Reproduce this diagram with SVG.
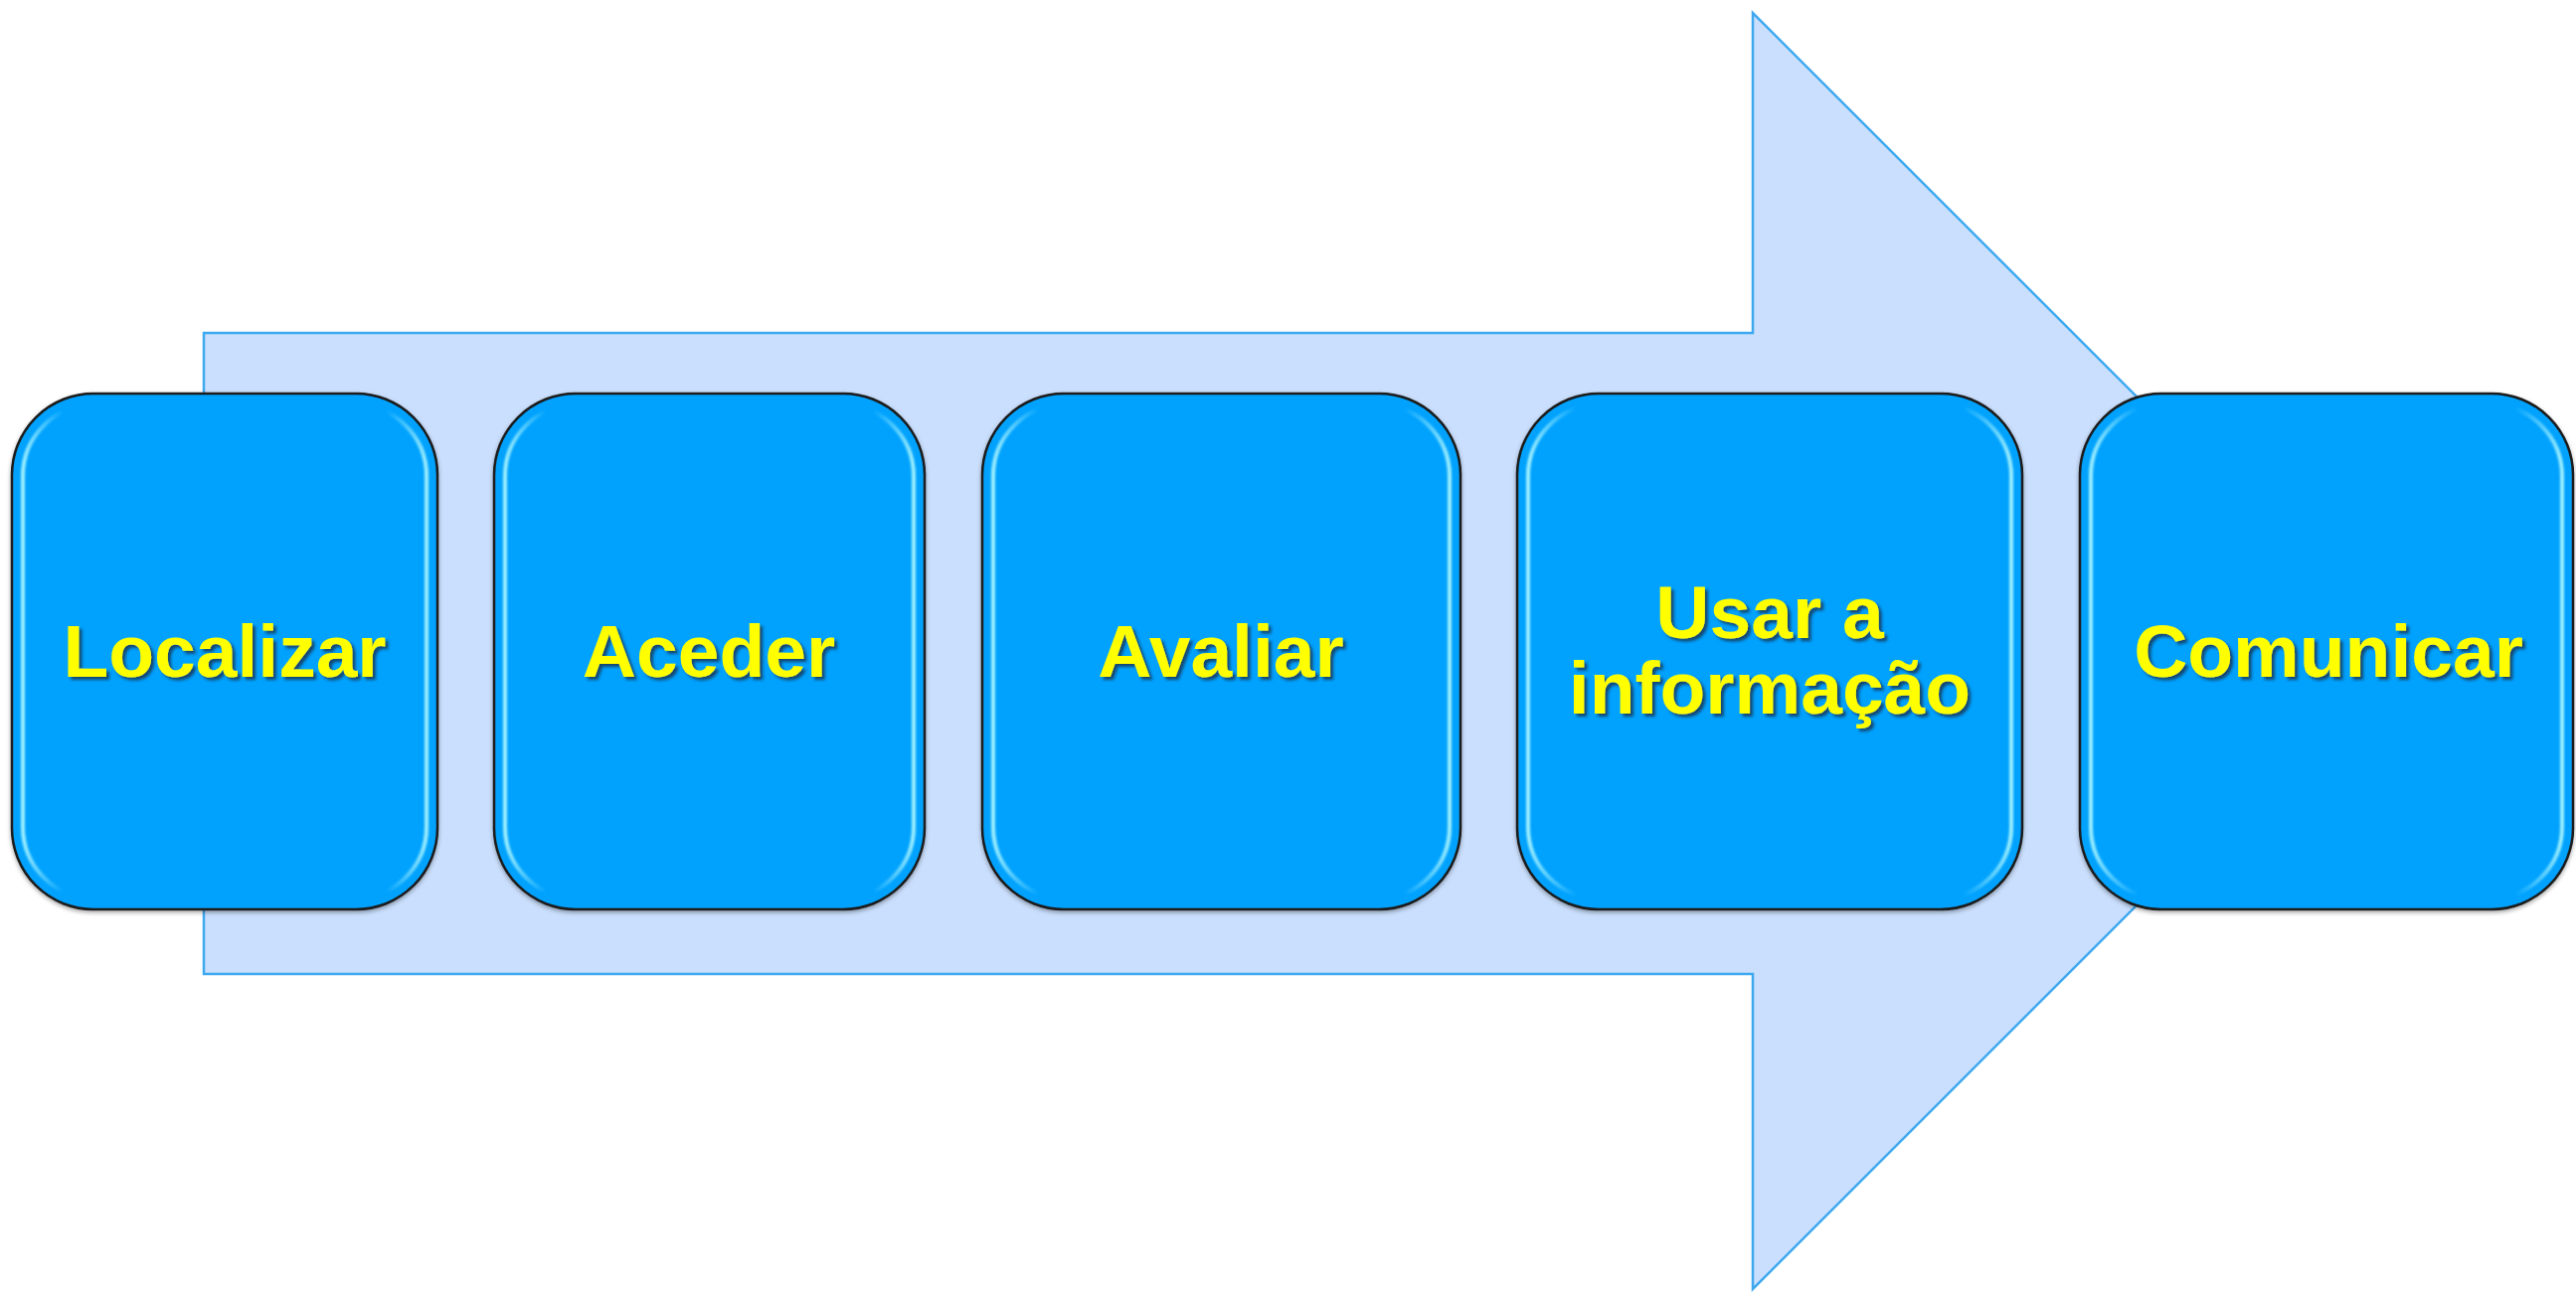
<svg xmlns="http://www.w3.org/2000/svg" width="2591" height="1300" viewBox="0 0 2591 1300">
<style>
.box{fill:#02A2FE;stroke:#1a1a1a;stroke-width:2.5}
.bevel{fill:none;stroke:url(#bev);stroke-width:4;filter:url(#soft)}
.lbl{font-family:"Liberation Sans",Arial,sans-serif;font-weight:bold;font-size:75px;fill:#FFFF00;text-anchor:middle;filter:url(#ts)}
.arrow{fill:#CADFFD;stroke:#3FA9F0;stroke-width:2.5}
</style>
<defs>
<linearGradient id="bev" x1="0" y1="0" x2="1" y2="0">
<stop offset="0" stop-color="#A8F4FF" stop-opacity="0.95"/>
<stop offset="0.1" stop-color="#A8F4FF" stop-opacity="0"/>
<stop offset="0.9" stop-color="#A8F4FF" stop-opacity="0"/>
<stop offset="1" stop-color="#A8F4FF" stop-opacity="0.95"/>
</linearGradient>
<filter id="soft" x="-5%" y="-5%" width="110%" height="110%">
<feGaussianBlur stdDeviation="0.8"/>
</filter>
<filter id="ts" x="-10%" y="-20%" width="120%" height="150%">
<feDropShadow dx="3" dy="3" stdDeviation="1.5" flood-color="#1b2a40" flood-opacity="0.75"/>
</filter>
<filter id="bs" x="-5%" y="-5%" width="110%" height="110%">
<feDropShadow dx="0" dy="2" stdDeviation="2" flood-color="#000" flood-opacity="0.35"/>
</filter>
</defs>
<rect width="2591" height="1300" fill="#FFFFFF"/>
<g id="arrow">
<polygon class="arrow" points="205,335 1763,335 1763,13 2405,655 1763,1297 1763,980 205,980"/>
</g>
<g id="connectors"></g>
<g id="node-localizar">
<rect class="box" filter="url(#bs)" x="12" y="396" width="428" height="519" rx="82" ry="82"/>
<rect class="bevel" x="23" y="407" width="406" height="497" rx="72" ry="72"/>
<text class="lbl" x="226" y="681">Localizar</text>
</g>
<g id="node-aceder">
<rect class="box" filter="url(#bs)" x="497" y="396" width="433" height="519" rx="82" ry="82"/>
<rect class="bevel" x="508" y="407" width="411" height="497" rx="72" ry="72"/>
<text class="lbl" x="713" y="681">Aceder</text>
</g>
<g id="node-avaliar">
<rect class="box" filter="url(#bs)" x="988" y="396" width="481" height="519" rx="82" ry="82"/>
<rect class="bevel" x="999" y="407" width="459" height="497" rx="72" ry="72"/>
<text class="lbl" x="1228" y="681">Avaliar</text>
</g>
<g id="node-usar">
<rect class="box" filter="url(#bs)" x="1526" y="396" width="508" height="519" rx="82" ry="82"/>
<rect class="bevel" x="1537" y="407" width="486" height="497" rx="72" ry="72"/>
<text class="lbl" x="1780" y="642">Usar a</text>
<text class="lbl" x="1780" y="718">informação</text>
</g>
<g id="node-comunicar">
<rect class="box" filter="url(#bs)" x="2092" y="396" width="496" height="519" rx="82" ry="82"/>
<rect class="bevel" x="2103" y="407" width="474" height="497" rx="72" ry="72"/>
<text class="lbl" x="2342" y="681">Comunicar</text>
</g>
</svg>
